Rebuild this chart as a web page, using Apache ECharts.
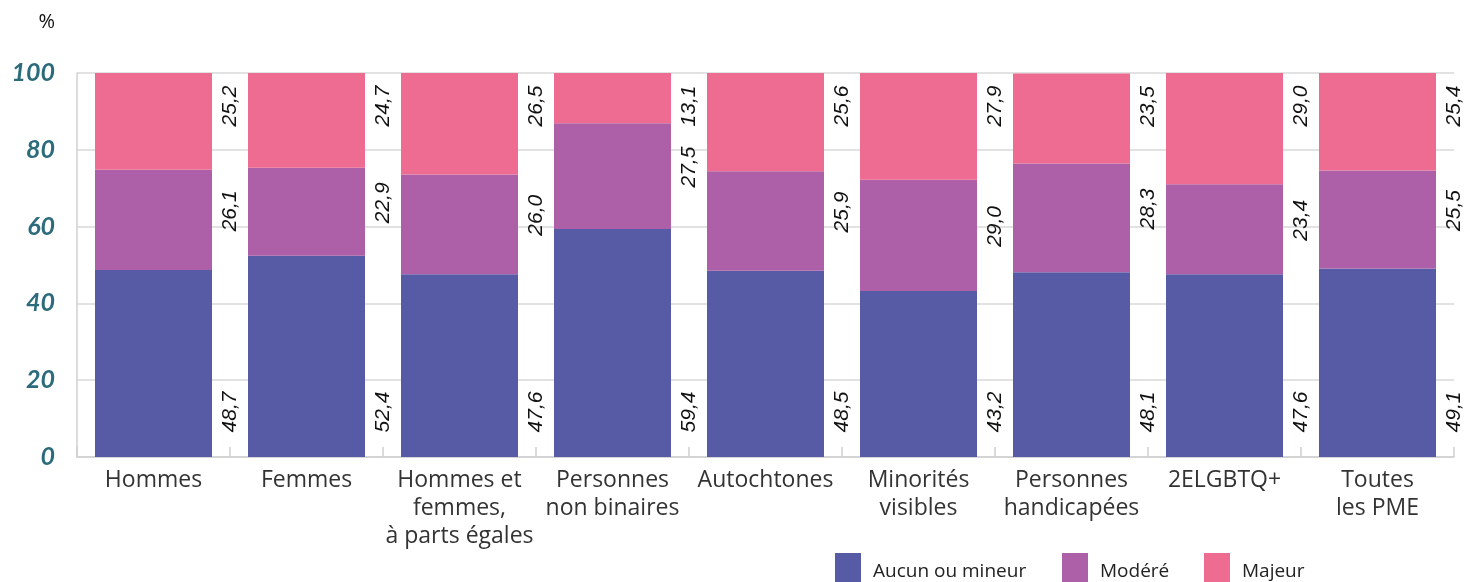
<!DOCTYPE html>
<html>
<head>
<meta charset="utf-8">
<script src="https://cdn.jsdelivr.net/npm/echarts@6/dist/echarts.min.js"></script>
<style>
  html, body { margin: 0; padding: 0; background: #fff; }
  #chart { width: 1476px; height: 582px; }
</style>
</head>
<body>
<div id="chart"></div>
<script>
// catégories (axe horizontal)
const categories = ['Hommes', 'Femmes', 'Hommes et\nfemmes,\nà parts égales', 'Personnes\nnon binaires',
  'Autochtones', 'Minorités\nvisibles', 'Personnes\nhandicapées', '2ELGBTQ+', 'Toutes\nles PME'];

const seriesNames = ['Aucun ou mineur', 'Modéré', 'Majeur'];

const aucun = [48.7, 52.4, 47.6, 59.4, 48.5, 43.2, 48.1, 47.6, 49.1];
const modere = [26.1, 22.9, 26.0, 27.5, 25.9, 29.0, 28.3, 23.4, 25.5];
const majeur = [25.2, 24.7, 26.5, 13.1, 25.6, 27.9, 23.5, 29.0, 25.4];

const yTicks = [0, 20, 40, 60, 80, 100];

const colors = ['#575ba5', '#ad5fa7', '#ee6c92'];

var myChart = echarts.init(document.getElementById('chart'));

function fmt(p) {
    return p.value.toFixed(1).replace('.', ',');
}

// label tourné à 90°, placé dans l'espace à droite de chaque barre
// (offset exprimé dans le repère tourné : [vers le haut, vers la droite])
function valueLabel(pos, up, right) {
    return {
        show: true,
        position: pos,
        distance: 0,
        rotate: 90,
        align: 'center',
        verticalAlign: 'middle',
        offset: [up, right],
        formatter: fmt,
        color: '#111',
        fontStyle: 'italic',
        fontFamily: 'Liberation Sans',
        fontSize: 21
    }
}

// une légende par série pour caler chaque élément (coupée en bas, comme l'original)
var legendLeft = [835, 1062, 1204];
var legends = seriesNames.map(function (name, i) {
    return {
        data: [name],
        left: legendLeft[i],
        top: 553,
        padding: 0,
        icon: 'rect',
        itemWidth: 26,
        itemHeight: 38,
        textStyle: {
            fontFamily: 'Open Sans',
            fontSize: 19,
            color: '#222',
            padding: [0, 0, 0, 7]
        }
    }
})

var option = {
    animation: false,
    color: colors,
    grid: { left: 77, right: 22, top: 73, bottom: 125 },
    legend: legends,
    xAxis: {
        type: 'category',
        data: categories,
        axisLine: { lineStyle: { color: '#d0d0d0', width: 1.5 } },
        axisTick: { show: true, inside: true, length: 10, lineStyle: { color: '#cfcfcf', width: 1.5 } },
        axisLabel: {
            interval: 0,
            margin: 9,
            fontFamily: 'Open Sans',
            fontSize: 23,
            lineHeight: 28,
            color: '#333'
        }
    },
    yAxis: {
        type: 'value',
        min: yTicks[0],
        max: yTicks[yTicks.length - 1],
        interval: 20,
        name: '%',
        nameLocation: 'end',
        nameGap: 41,
        nameTextStyle: {
            align: 'right',
            padding: [0, 22, 0, 0],
            fontFamily: 'Open Sans',
            fontSize: 20,
            color: '#111'
        },
        axisLine: { show: true, lineStyle: { color: '#d0d0d0', width: 1.5 } },
        axisTick: { show: false },
        splitLine: { lineStyle: { color: '#d9d9d9', width: 1.5 } },
        axisLabel: {
            margin: 22,
            fontFamily: 'Lato',
            fontWeight: 'bold',
            fontStyle: 'italic',
            fontSize: 25,
            color: '#2c6b7c'
        }
    },
    series: [
        {
            name: seriesNames[0],
            type: 'bar',
            stack: 'total',
            barWidth: 117,
            data: aucun,
            label: valueLabel('insideBottom', 45, 76.5)
        },
        {
            name: seriesNames[1],
            type: 'bar',
            stack: 'total',
            barWidth: 117,
            data: modere,
            label: valueLabel('inside', 9, 76.5)
        },
        {
            name: seriesNames[2],
            type: 'bar',
            stack: 'total',
            barWidth: 117,
            data: majeur,
            label: valueLabel('insideTop', -33, 76.5)
        }
    ]
};

myChart.setOption(option);
</script>
</body>
</html>
